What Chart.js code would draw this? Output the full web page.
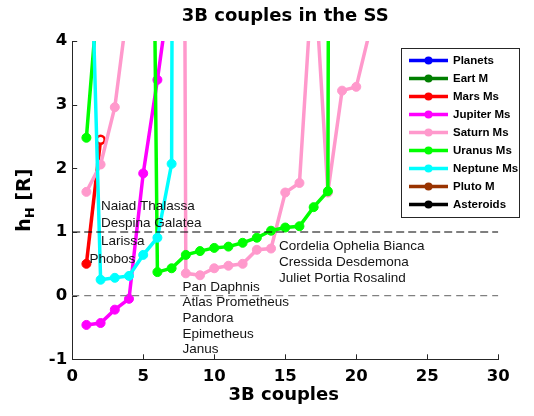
<!DOCTYPE html>
<html>
<head>
<meta charset="utf-8">
<script src="https://cdn.jsdelivr.net/npm/chart.js@4.4.1/dist/chart.umd.min.js"></script>
<style>
  html, body { margin: 0; padding: 0; background: #fff; }
  #wrap { width: 534px; height: 416px; }
</style>
</head>
<body>
<div id="wrap"><canvas id="c" width="534" height="416"></canvas></div>
<script>
// Index of each three-body couple along the x axis
const couples = [1, 2, 3, 4, 5, 6, 7, 8, 9, 10, 11, 12, 13, 14, 15, 16, 17, 18, 19, 20, 21];

// h_H values (in R) per family; values above 4 run off the top of the axes
const planets   = [];
const earthM    = [];
const marsMs    = [0.50, 2.45];
const jupiterMs = [-0.46, -0.43, -0.22, -0.05, 1.92, 3.39, 5.0];
const saturnMs  = [1.63, 2.06, 2.96, 4.7, 9, 25, 60, 0.35, 0.32, 0.43, 0.47, 0.50, 0.72, 0.74, 1.62, 1.77, 5.3, 1.62, 3.22, 3.28, 4.2];
const uranusMs  = [2.48, 5.25, 9, 14, 21.7, 0.37, 0.43, 0.64, 0.70, 0.75, 0.77, 0.83, 0.91, 1.02, 1.07, 1.09, 1.39, 1.64, 80];
const neptuneMs = [8.2, 0.25, 0.28, 0.31, 0.64, 0.91, 2.07, 80];
const plutoM    = [];
const asteroids = [];

const seriesNames  = ['Planets', 'Eart M', 'Mars Ms', 'Jupiter Ms', 'Saturn Ms', 'Uranus Ms', 'Neptune Ms', 'Pluto M', 'Asteroids'];
const seriesValues = [planets, earthM, marsMs, jupiterMs, saturnMs, uranusMs, neptuneMs, plutoM, asteroids];
const seriesColors = ['#0000ff', '#007f00', '#ff0000', '#ff00ff', '#ff99cc', '#00ff00', '#00ffff', '#993300', '#000000'];

// Axis ticks
const xTicks = [0, 5, 10, 15, 20, 25, 30];
const yTicks = [-1, 0, 1, 2, 3, 4];

// Reference levels
const upperLevel = 1;
const lowerLevel = 0;

// Moon-group labels: text, x, y (data units, left edge / vertical middle)
const moonLabelText = ['Naiad Thalassa', 'Despina Galatea', 'Larissa', 'Phobos',
  'Pan Daphnis', 'Atlas Prometheus', 'Pandora', 'Epimetheus', 'Janus',
  'Cordelia Ophelia Bianca', 'Cressida Desdemona', 'Juliet Portia Rosalind'];
const moonLabelX = [2.03, 2.03, 2.03, 1.22, 7.77, 7.77, 7.77, 7.77, 7.77, 14.56, 14.56, 14.56];
const moonLabelY = [1.40, 1.13, 0.85, 0.565, 0.126, -0.11, -0.36, -0.61, -0.85, 0.78, 0.526, 0.267];

const TITLE_TEXT = '3B couples in the SS';
const X_TITLE = '3B couples';

const FONT = '"Liberation Sans", Arial, Helvetica, sans-serif';
const WIDE = '"DejaVu Sans", Verdana, sans-serif';

const datasets = seriesNames.map((name, k) => {
  const isMars = name === 'Mars Ms';
  return {
    label: name,
    inLegend: true,
    data: seriesValues[k].map((v, i) => ({ x: couples[i], y: v })),
    borderColor: seriesColors[k],
    backgroundColor: seriesColors[k],
    // the last Mars marker is drawn open
    pointBackgroundColor: isMars ? [seriesColors[k], '#ffffff'] : seriesColors[k],
    pointBorderColor: seriesColors[k],
    pointRadius: isMars ? [4.5, 4] : 4.5,
    pointBorderWidth: isMars ? [1, 2.5] : 1,
    borderWidth: 3.5,
    tension: 0,
    clip: 0,
    order: -k
  };
});

datasets.push({
  label: 'level1', inLegend: false,
  data: [{ x: 0, y: upperLevel }, { x: 30, y: upperLevel }],
  borderColor: '#000', borderWidth: 1.2, borderDash: [8, 4],
  pointRadius: 0, clip: 0, order: -20
});
datasets.push({
  label: 'level0', inLegend: false,
  data: [{ x: 0, y: lowerLevel }, { x: 30, y: lowerLevel }],
  borderColor: '#808080', borderWidth: 1.4, borderDash: [7, 5],
  pointRadius: 0, clip: 0, order: -20
});

// Inward tick marks on the left and bottom axes
const innerTicks = {
  id: 'innerTicks',
  afterDraw(chart) {
    const { ctx, chartArea, scales } = chart;
    ctx.save();
    ctx.strokeStyle = '#262626';
    ctx.lineWidth = 1;
    ctx.beginPath();
    xTicks.forEach(v => {
      const px = Math.round(scales.x.getPixelForValue(v)) + 0.5;
      ctx.moveTo(px, chartArea.bottom);
      ctx.lineTo(px, chartArea.bottom - 5);
    });
    yTicks.forEach(v => {
      const py = Math.round(scales.y.getPixelForValue(v)) + 0.5;
      ctx.moveTo(chartArea.left, py);
      ctx.lineTo(chartArea.left + 5, py);
    });
    ctx.stroke();
    ctx.restore();
  }
};

// Moon-group text labels placed in data coordinates
const moonLabels = {
  id: 'moonLabels',
  afterDatasetsDraw(chart) {
    const { ctx, scales } = chart;
    ctx.save();
    ctx.font = '13.5px ' + FONT;
    ctx.fillStyle = '#141414';
    ctx.textBaseline = 'middle';
    ctx.textAlign = 'left';
    moonLabelText.forEach((t, i) => {
      ctx.fillText(t, scales.x.getPixelForValue(moonLabelX[i]), scales.y.getPixelForValue(moonLabelY[i]));
    });
    ctx.restore();
  }
};

// Chart title and x title centred over the plotting area; y title with subscript h_H [R]
const axisTexts = {
  id: 'axisTexts',
  afterDraw(chart) {
    const { ctx, chartArea } = chart;
    const cx = (chartArea.left + chartArea.right) / 2;
    ctx.save();
    ctx.fillStyle = '#000';
    ctx.textBaseline = 'alphabetic';
    ctx.textAlign = 'center';
    ctx.font = 'bold 18px ' + WIDE;
    ctx.fillText(TITLE_TEXT, cx, chartArea.top - 20);
    ctx.font = 'bold 18px ' + WIDE;
    ctx.fillText(X_TITLE, cx - 1.5, chartArea.bottom + 40.5);

    const big = 'bold 19px ' + WIDE, small = 'bold 13px ' + WIDE;
    ctx.textAlign = 'left';
    ctx.translate(29.5, (chartArea.top + chartArea.bottom) / 2);
    ctx.rotate(-Math.PI / 2);
    ctx.font = big; const w1 = ctx.measureText('h').width;
    ctx.font = small; const w2 = ctx.measureText('H').width;
    ctx.font = big; const w3 = ctx.measureText(' [R]').width;
    let x = -(w1 + w2 + w3) / 2;
    ctx.font = big; ctx.fillText('h', x, 0); x += w1;
    ctx.font = small; ctx.fillText('H', x, 4); x += w2;
    ctx.font = big; ctx.fillText(' [R]', x, 0);
    ctx.restore();
  }
};

// Boxed legend with line-and-marker samples
const boxLegend = {
  id: 'boxLegend',
  afterDraw(chart) {
    const { ctx, chartArea } = chart;
    const items = chart.data.datasets.filter(d => d.inLegend);
    const left = Math.round(chartArea.right - 97), top = Math.round(chartArea.top + 7);
    const w = 118, h = 169;
    ctx.save();
    ctx.fillStyle = '#fff';
    ctx.fillRect(left, top, w, h);
    ctx.strokeStyle = '#262626';
    ctx.lineWidth = 1;
    ctx.strokeRect(left + 0.5, top + 0.5, w, h);
    items.forEach((d, i) => {
      const y = top + 12.5 + i * 18;
      ctx.strokeStyle = d.borderColor;
      ctx.lineWidth = 3.5;
      ctx.beginPath();
      ctx.moveTo(left + 8, y);
      ctx.lineTo(left + 47, y);
      ctx.stroke();
      ctx.fillStyle = d.borderColor;
      ctx.beginPath();
      ctx.arc(left + 27.5, y, 4, 0, Math.PI * 2);
      ctx.fill();
      ctx.fillStyle = '#000';
      ctx.font = 'bold 11.5px ' + FONT;
      ctx.textBaseline = 'middle';
      ctx.textAlign = 'left';
      ctx.fillText(d.label, left + 52, y + 0.5);
    });
    ctx.restore();
  }
};

new Chart(document.getElementById('c'), {
  type: 'line',
  data: { datasets },
  options: {
    responsive: false,
    animation: false,
    devicePixelRatio: 1,
    layout: { padding: { left: 0, right: 35.7, top: 41, bottom: 0 } },
    plugins: {
      legend: { display: false },
      tooltip: { enabled: false },
      title: { display: false }
    },
    scales: {
      x: {
        type: 'linear',
        min: 0, max: 30,
        afterBuildTicks: s => { s.ticks = xTicks.map(v => ({ value: v })); },
        afterFit: s => { s.height = 56.7; },
        ticks: { color: '#000', font: { family: WIDE, size: 16.5, weight: 'bold' }, padding: 8, maxRotation: 0 },
        grid: { display: true, drawOnChartArea: false, drawTicks: false },
        border: { display: true, color: '#262626', width: 1 },
        title: { display: false }
      },
      y: {
        type: 'linear',
        min: -1, max: 4,
        afterBuildTicks: s => { s.ticks = yTicks.map(v => ({ value: v })); },
        afterFit: s => { s.width = 72.2; },
        ticks: { color: '#000', font: { family: WIDE, size: 16.5, weight: 'bold' }, padding: 5 },
        grid: { display: true, drawOnChartArea: false, drawTicks: false },
        border: { display: true, color: '#262626', width: 1 }
      }
    }
  },
  plugins: [moonLabels, innerTicks, axisTexts, boxLegend]
});
</script>
</body>
</html>
